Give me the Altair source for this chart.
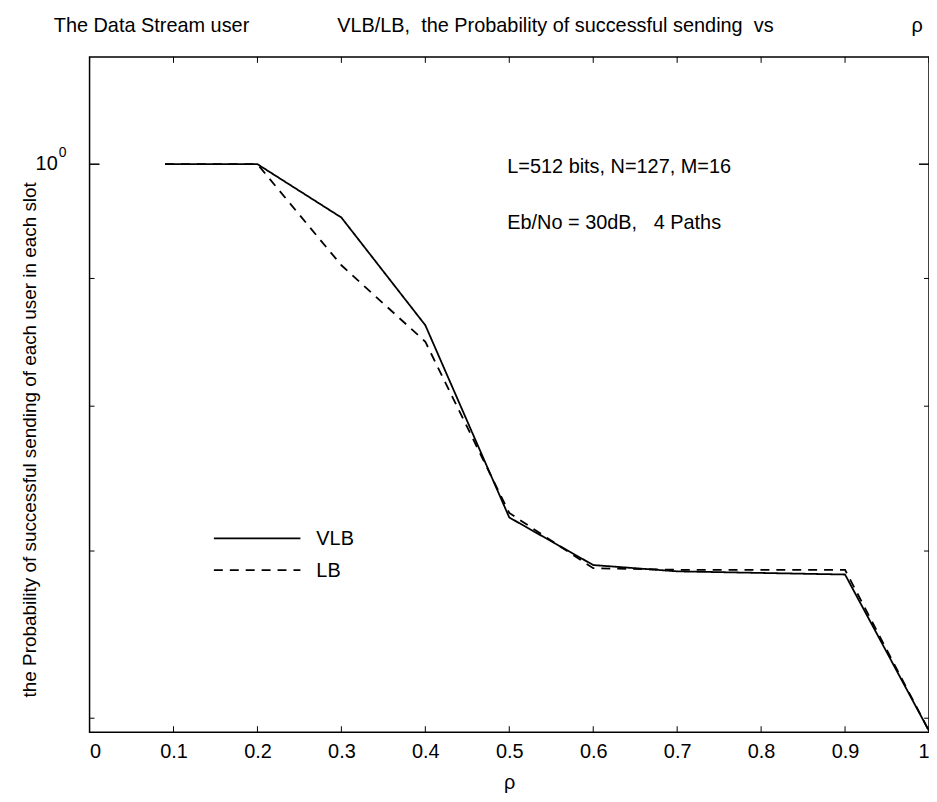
import altair as alt
import pandas as pd

# ---- data ----
rho = [0.09, 0.2, 0.3, 0.4, 0.5, 0.6, 0.7, 0.8, 0.9, 1.0]
vlb = [1.0, 1.0, 0.952, 0.862, 0.722, 0.691, 0.687, 0.686, 0.685, 0.593]
lb = [1.0, 1.0, 0.911, 0.849, 0.725, 0.689, 0.688, 0.688, 0.688, 0.593]
series_names = ["VLB", "LB"]
x_ticks = [0, 0.1, 0.2, 0.3, 0.4, 0.5, 0.6, 0.7, 0.8, 0.9, 1.0]
y_minor_ticks = [0.6, 0.7, 0.8, 0.9]
y_major_ticks = [1.0]

W, H = 844, 679
FONT = "Liberation Sans"
FS = 20

df = pd.DataFrame(
    {"rho": rho * 2,
     "p": vlb + lb,
     "series": [series_names[0]] * len(rho) + [series_names[1]] * len(rho)}
)

xscale = alt.Scale(domain=[0, 1], nice=False, zero=False)
yscale = alt.Scale(type="log", domain=[0.5923, 1.104], nice=False, zero=False)

xaxis = alt.Axis(values=x_ticks, format="~g", title="ρ", grid=False,
                 ticks=False, domain=False, labelFont=FONT,
                 labelFontSize=FS, labelColor="black", labelPadding=9,
                 titleFont=FONT, titleFontSize=FS, titleFontWeight="normal",
                 titleColor="black", titlePadding=12)

lines = alt.Chart(df).mark_line(color="black", strokeWidth=1.8).encode(
    x=alt.X("rho:Q", scale=xscale, axis=xaxis),
    y=alt.Y("p:Q", scale=yscale, axis=None),
    strokeDash=alt.StrokeDash("series:N",
                              scale=alt.Scale(domain=series_names, range=[[1, 0], [9, 7]]),
                              legend=None),
    detail="series:N",
)

xt = pd.DataFrame({"rho": x_ticks})
bottom_ticks = alt.Chart(xt).mark_rule(color="black", strokeWidth=1).encode(
    x=alt.X("rho:Q", scale=xscale, axis=xaxis), y=alt.value(H), y2=alt.value(H - 6))
top_ticks = alt.Chart(xt).mark_rule(color="black", strokeWidth=1).encode(
    x=alt.X("rho:Q", scale=xscale, axis=xaxis), y=alt.value(0), y2=alt.value(6))

ymin = pd.DataFrame({"p": y_minor_ticks})
ymaj = pd.DataFrame({"p": y_major_ticks})
left_minor = alt.Chart(ymin).mark_rule(color="black").encode(
    y=alt.Y("p:Q", scale=yscale, axis=None), x=alt.value(0), x2=alt.value(5))
right_minor = alt.Chart(ymin).mark_rule(color="black").encode(
    y=alt.Y("p:Q", scale=yscale, axis=None), x=alt.value(W), x2=alt.value(W - 5))
left_major = alt.Chart(ymaj).mark_rule(color="black", strokeWidth=1.5).encode(
    y=alt.Y("p:Q", scale=yscale, axis=None), x=alt.value(0), x2=alt.value(10))
right_major = alt.Chart(ymaj).mark_rule(color="black", strokeWidth=1.5).encode(
    y=alt.Y("p:Q", scale=yscale, axis=None), x=alt.value(W), x2=alt.value(W - 10))

one = pd.DataFrame({"a": [0]})


def txt(s, x, y, size=FS, align="left", angle=0, baseline="alphabetic"):
    return alt.Chart(one).mark_text(
        font=FONT, fontSize=size, color="black", align=align, angle=angle,
        baseline=baseline).encode(x=alt.value(x), y=alt.value(y), text=alt.value(s))


ten = alt.Chart(ymaj).mark_text(font=FONT, fontSize=FS, color="black", align="right",
                                baseline="middle").encode(
    y=alt.Y("p:Q", scale=yscale, axis=None), x=alt.value(-32), text=alt.value("10"))
sup = alt.Chart(ymaj).mark_text(font=FONT, fontSize=14, color="black", align="left",
                                baseline="middle", dy=-11).encode(
    y=alt.Y("p:Q", scale=yscale, axis=None), x=alt.value(-31), text=alt.value("0"))

NB = "\u00a0"
title1 = txt("The Data Stream user", -36, -25)
title2 = txt("VLB/LB," + NB * 2 + "the Probability of successful sending" + NB * 2 + "vs", 249, -25)
title3 = txt("ρ", 832, -25, align="center")
ytitle = txt("the Probability of successful sending of each user in each slot", -60, 385,
             size=19, align="center", angle=270, baseline="middle")

ann1 = txt("L=512 bits, N=127, M=16", 420, 117)
ann2 = txt("Eb/No = 30dB," + NB * 3 + "4 Paths", 420, 173)

leg_solid = alt.Chart(one).mark_rule(color="black", strokeWidth=1.8).encode(
    x=alt.value(125), x2=alt.value(212), y=alt.value(484))
leg_dash = alt.Chart(one).mark_rule(color="black", strokeWidth=1.8, strokeDash=[9, 7]).encode(
    x=alt.value(125), x2=alt.value(212), y=alt.value(516))
leg_t1 = txt("VLB", 228, 485, baseline="middle")
leg_t2 = txt("LB", 228, 517, baseline="middle")

chart = alt.layer(
    lines, bottom_ticks, top_ticks, left_minor, right_minor, left_major, right_major,
    ten, sup, title1, title2, title3, ytitle, ann1, ann2,
    leg_solid, leg_dash, leg_t1, leg_t2,
).properties(
    width=W, height=H,
    autosize=alt.AutoSizeParams(type="none"),
    padding={"left": 82, "top": 47, "right": 0, "bottom": 66},
).configure(
    background="white",
    view=alt.ViewConfig(stroke="black", strokeWidth=1.5),
)

chart.save("out.html", embed_options={"renderer": "svg", "actions": False})
